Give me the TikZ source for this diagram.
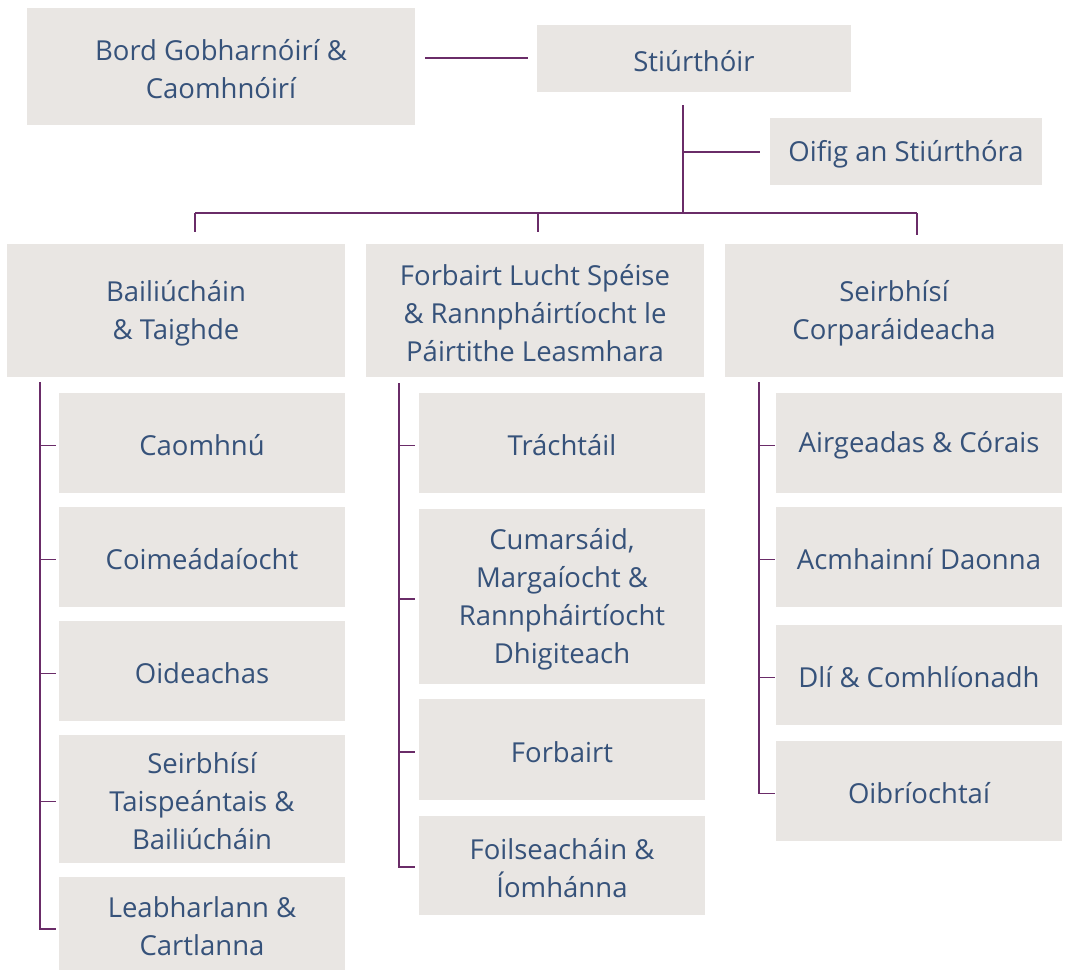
\documentclass[tikz,border=0pt]{standalone}
\usepackage{fontspec}
\setmainfont{Open Sans}
\definecolor{boxfill}{HTML}{E9E6E3}
\definecolor{boxtext}{HTML}{36527A}
\definecolor{linkcol}{HTML}{6A2C68}
\begin{document}
\begin{tikzpicture}[x=1pt,y=-1pt,
  orgbox/.style={draw=none,text=boxtext,align=center,inner sep=0pt,
    font=\fontsize{27.5}{38}\selectfont},
  link/.style={draw=linkcol,line width=1.2pt}]
\useasboundingbox (0,0) rectangle (1068,972);
% helper: box from corners (fill drawn at corners, text node slightly lowered)
\newcommand{\orgnode}[6]{%
  \fill[boxfill] (#2,#3) rectangle (#4,#5);
  \node[orgbox,minimum width={#4-#2},minimum height={#5-#3}] (#1) at ({(#2+#4)/2},{(#3+#5)/2+2.5}) {#6};}
\orgnode{bord}{27}{8}{415}{125}{Bord Gobharnóirí \&\\Caomhnóirí}
\orgnode{stiur}{537}{25}{851}{92}{Stiúrthóir}
\orgnode{oifig}{770}{118}{1042}{185}{Oifig an Stiúrthóra}
\orgnode{bail}{7}{244}{345}{377}{Bailiúcháin\\\& Taighde}
\orgnode{forb}{366}{244}{704}{377}{Forbairt Lucht Spéise\\\& Rannpháirtíocht le\\Páirtithe Leasmhara}
\orgnode{seirb}{725}{244}{1063}{377}{Seirbhísí\\Corparáideacha}
% column 1
\orgnode{caomh}{59}{393}{345}{493}{Caomhnú}
\orgnode{coim}{59}{507}{345}{607}{Coimeádaíocht}
\orgnode{oide}{59}{621}{345}{721}{Oideachas}
\orgnode{tais}{59}{735}{345}{863}{Seirbhísí\\Taispeántais \&\\Bailiúcháin}
\orgnode{leabh}{59}{877}{345}{970}{Leabharlann \&\\Cartlanna}
% column 2
\orgnode{tracht}{419}{393}{705}{493}{Tráchtáil}
\orgnode{cumar}{419}{509}{705}{684}{Cumarsáid,\\Margaíocht \&\\Rannpháirtíocht\\Dhigiteach}
\orgnode{forbt}{419}{699}{705}{800}{Forbairt}
\orgnode{foil}{419}{816}{705}{915}{Foilseacháin \&\\Íomhánna}
% column 3
\orgnode{airg}{776}{393}{1062}{493}{Airgeadas \& Córais}
\orgnode{acmh}{776}{507}{1062}{607}{Acmhainní Daonna}
\orgnode{dli}{776}{625}{1062}{725}{Dlí \& Comhlíonadh}
\orgnode{oibr}{776}{741}{1062}{841}{Oibríochtaí}
% top connectors
\coordinate (bordline) at (0,58);
\draw[link] ([xshift=10pt]bord.east |- bordline) -- ([xshift=-9pt]stiur.west |- bordline);
\coordinate (vtop) at (683,105);
\coordinate (vbus) at (683,213);
\draw[link] (vtop) -- (vbus);
\coordinate (oifline) at (0,152);
\draw[link] (vtop |- oifline) -- ([xshift=-10pt]oifig.west |- oifline);
\coordinate (busL) at (195,213);
\coordinate (busM) at (538,213);
\coordinate (busR) at (917,213);
\draw[link] (busL) -- (busR);
\draw[link] (busL) -- (195,232);
\draw[link] (busM) -- (538,232);
\draw[link] (busR) -- (917,235);
% column 1 connectors
\coordinate (c1) at (40,382);
\draw[link] (c1) -- (c1 |- 0,929) -- ([xshift=-3pt]leabh.west |- 0,929);
\foreach \n in {caomh,coim,oide,tais}
  \draw[link] (c1 |- \n.west) -- ([xshift=-3pt]\n.west);
% column 2 connectors
\coordinate (c2) at (399,383);
\draw[link] (c2) -- (c2 |- 0,867) -- ([xshift=-4pt]foil.west |- 0,867);
\foreach \n in {tracht,cumar,forbt}
  \draw[link] (c2 |- \n.west) -- ([xshift=-4pt]\n.west);
% column 3 connectors
\coordinate (c3) at (759,382);
\draw[link] (c3) -- (c3 |- oibr.west) -- ([xshift=-1pt]oibr.west);
\foreach \n in {airg,acmh,dli}
  \draw[link] (c3 |- \n.west) -- ([xshift=-1pt]\n.west);
\end{tikzpicture}
\end{document}
